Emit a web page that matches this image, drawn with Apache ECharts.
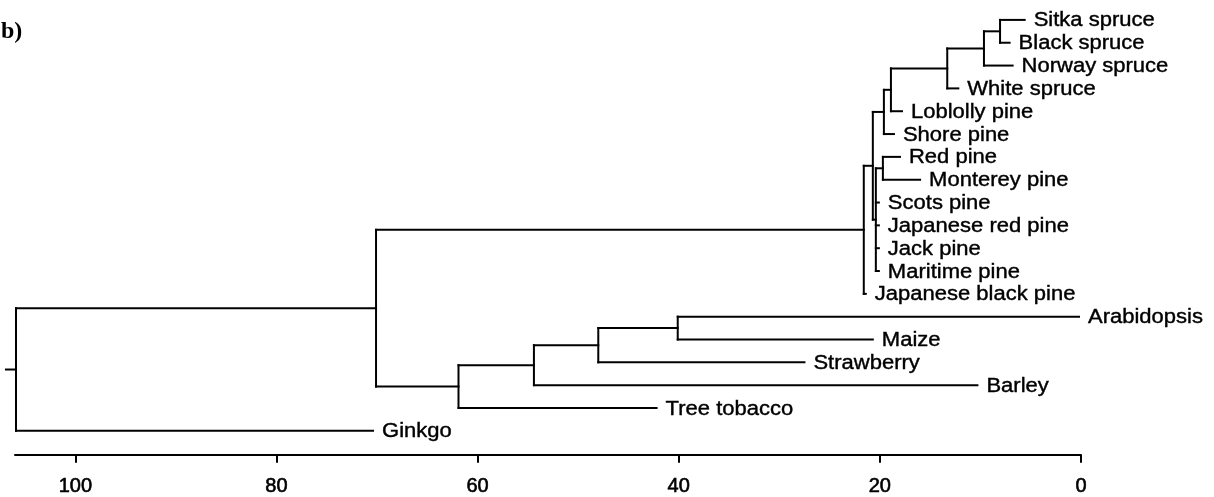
<!DOCTYPE html>
<html><head><meta charset="utf-8">
<script src="https://cdn.jsdelivr.net/npm/echarts@6/dist/echarts.min.js"></script>
<style>html,body{margin:0;padding:0;background:#fff}#c{width:1214px;height:497px}</style>
</head><body><div id="c"></div>
<script>
// Leaves (top to bottom) and the height at which each leaf branch ends
const leafNames = ['Sitka spruce','Black spruce','Norway spruce','White spruce','Loblolly pine','Shore pine','Red pine','Monterey pine','Scots pine','Japanese red pine','Jack pine','Maritime pine','Japanese black pine','Arabidopsis','Maize','Strawberry','Barley','Tree tobacco','Ginkgo'];
const leafHeights = [5.6,7.1,6.8,12.2,17.8,18.6,18.0,16.0,20.1,20.1,20.1,20.1,21.4,0.2,20.7,27.5,10.3,42.2,70.4];
// Internal nodes: name, merge height, children (leaf indices or node names)
const nodeNames = ['SB','SBN','Spruce','SprLob','SprShore','RedMont','PinePoly','Pinaceae','Conifers','AraMaize','AMS','AMSB','Angio','Seed','Root'];
const nodeHeights = [8.05,9.65,13.3,18.9,19.6,19.7,20.4,20.7,21.6,40.1,48.0,54.4,61.9,70.1,105.9];
const nodeChildren = [[0,1],['SB',2],['SBN',3],['Spruce',4],['SprLob',5],[6,7],['RedMont',8,9,10,11],['SprShore','PinePoly'],['Pinaceae',12],[13,14],['AraMaize',15],['AMS',16],['AMSB',17],['Conifers','Angio'],['Seed',18]];
const rootStub = 1.0;
const xTicks = [0,20,40,60,80,100];

function childH(c){ return typeof c === 'number' ? leafHeights[c] : nodeHeights[nodeNames.indexOf(c)]; }
function childY(c){
  if (typeof c === 'number') return c;
  const ch = nodeChildren[nodeNames.indexOf(c)];
  return (childY(ch[0]) + childY(ch[ch.length-1])) / 2;
}
const segments = [];
nodeNames.forEach(function(n, k){
  const h = nodeHeights[k], ch = nodeChildren[k];
  segments.push([h, childY(ch[0]), h, childY(ch[ch.length-1])]);
  ch.forEach(function(c){ const y = childY(c); segments.push([h, y, childH(c), y]); });
});
const rootY = childY('Root');
segments.push([nodeHeights[nodeNames.indexOf('Root')] + rootStub, rootY, nodeHeights[nodeNames.indexOf('Root')], rootY]);
const labelData = leafNames.map(function(n, i){ return [leafHeights[i], i]; });

const chart = echarts.init(document.getElementById('c'), null, {renderer:'canvas'});
chart.setOption({
  animation: false,
  backgroundColor: '#fff',
  title: { text: 'b)', left: -4, top: 15, textStyle: { fontFamily: '"Liberation Serif", "DejaVu Serif", serif', fontWeight: 'bold', fontSize: 24, color: '#000' } },
  grid: { left: 15, right: 133, top: 0, bottom: 40 },
  xAxis: { type: 'value', min: 0, max: 106, inverse: true, position: 'bottom',
    splitLine: { show: false },
    axisLine: { show: true, onZero: false, lineStyle: { color: '#000', width: 2 } },
    axisTick: { show: true, length: 8, lineStyle: { color: '#000', width: 2 }, customValues: xTicks },
    axisLabel: { customValues: xTicks, fontSize: 20, color: '#000', margin: 22, textBorderColor: '#000', textBorderWidth: 0.6, fontFamily: '"Liberation Sans", Arial, sans-serif' } },
  yAxis: { type: 'value', min: -0.872, max: 19.046, inverse: true, show: false },
  series: [
    { type: 'custom', data: segments, clip: false, encode: { x: [0,2], y: [1,3] },
      renderItem: function(params, api){
        const p1 = api.coord([api.value(0), api.value(1)]);
        const p2 = api.coord([api.value(2), api.value(3)]);
        return { type: 'line', shape: { x1: p1[0], y1: p1[1], x2: p2[0], y2: p2[1] },
          style: { stroke: '#000', lineWidth: 2, lineCap: 'square' } };
      } },
    { type: 'custom', data: labelData, clip: false, encode: { x: 0, y: 1 },
      renderItem: function(params, api){
        const p = api.coord([api.value(0), api.value(1)]);
        return { type: 'text', x: p[0] + 9, y: p[1] + 1, scaleX: 1.1,
          style: { text: leafNames[params.dataIndex], fill: '#000', stroke: '#000', lineWidth: 0.4, font: '20px "Liberation Sans", Arial, sans-serif', align: 'left', verticalAlign: 'middle' } };
      } }
  ]
});
</script></body></html>
